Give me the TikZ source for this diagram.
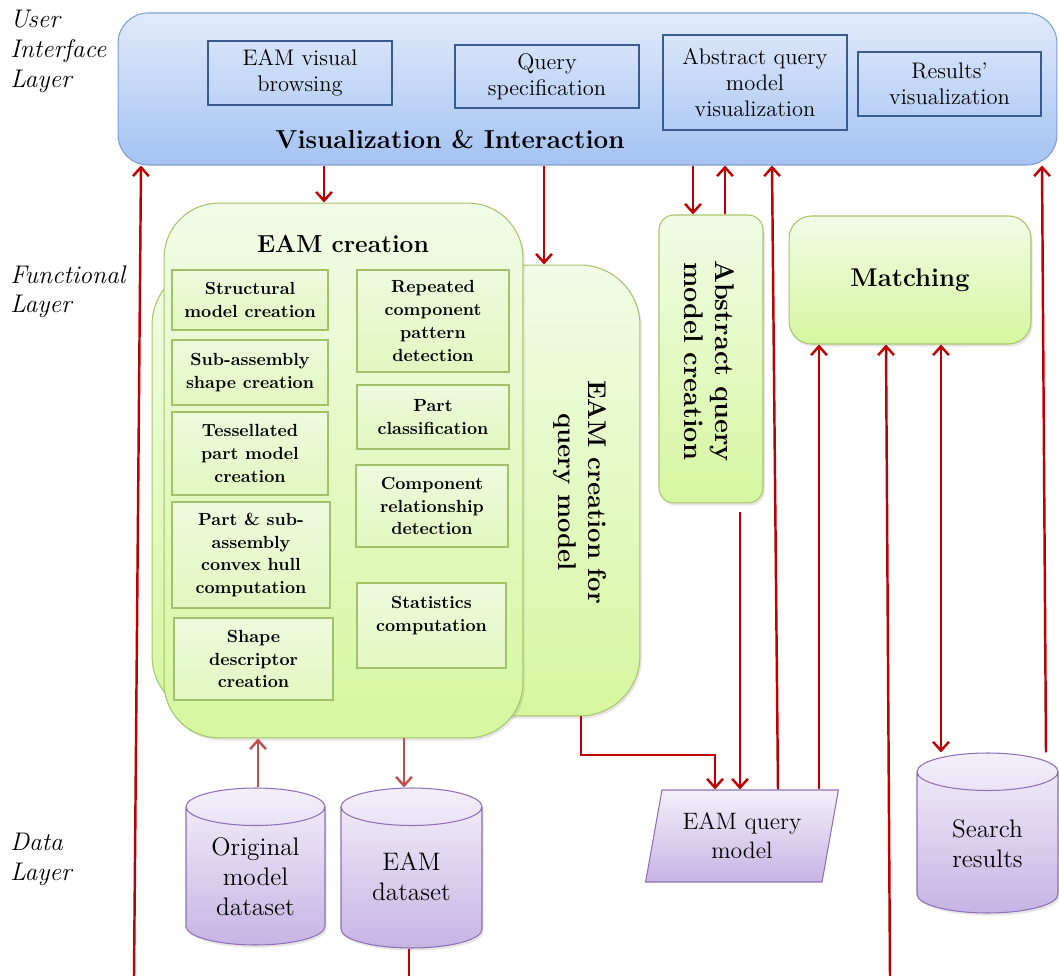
\documentclass[tikz,border=0pt]{standalone}
\usepackage{tikz}
\usetikzlibrary{shapes.geometric,arrows.meta,shadows}

\definecolor{linkred}{RGB}{192,0,0}
\definecolor{softred}{RGB}{192,80,77}
\definecolor{uitop}{RGB}{225,235,250}
\definecolor{uibot}{RGB}{164,194,243}
\definecolor{uiedge}{RGB}{126,160,212}
\definecolor{uiline}{RGB}{59,91,142}
\definecolor{grntop}{RGB}{242,251,230}
\definecolor{grnbot}{RGB}{214,247,160}
\definecolor{grnedge}{RGB}{167,196,107}
\definecolor{tasktop}{RGB}{238,250,222}
\definecolor{taskbot}{RGB}{226,247,192}
\definecolor{taskedge}{RGB}{163,192,106}
\definecolor{dbtop}{RGB}{244,240,250}
\definecolor{dbbot}{RGB}{198,180,228}
\definecolor{dbedge}{RGB}{142,113,181}

\begin{document}
\begin{tikzpicture}[x=0.02cm, y=-0.02cm, >={Straight Barb[length=5pt,width=9pt]},
  uibox/.style={draw=uiedge, top color=uitop, bottom color=uibot, rounded corners=0.6cm, line width=0.6pt},
  uipart/.style={draw=uiline, line width=0.6pt, align=center, font=\fontsize{12.8}{14.7}\selectfont},
  grnbox/.style={draw=grnedge, top color=grntop, bottom color=grnbot, line width=0.6pt,
    drop shadow={opacity=0.2, shadow xshift=1pt, shadow yshift=-1.5pt}},
  task/.style={draw=taskedge, top color=tasktop, bottom color=taskbot, line width=1pt, align=center,
    font=\fontsize{10}{13}\selectfont\bfseries},
  bigbold/.style={align=center, font=\fontsize{14.6}{17}\selectfont\bfseries},
  db/.style={cylinder, shape border rotate=90, aspect=3.2, anchor=shape center, draw=dbedge,
    top color=dbtop, bottom color=dbbot, line width=0.6pt,
    drop shadow={opacity=0.2, shadow xshift=1pt, shadow yshift=-1.5pt}},
  dbtext/.style={align=center, font=\fontsize{14.4}{17}\selectfont},
  param/.style={trapezium, trapezium left angle=77, trapezium right angle=103, trapezium stretches=true,
    draw=dbedge, top color=dbtop, bottom color=dbbot, line width=0.6pt, align=center,
    font=\fontsize{13.5}{16.5}\selectfont},
  flow/.style={draw=linkred, line width=1.4pt},
  softflow/.style={draw=softred, line width=1.4pt},
  layer/.style={anchor=north west, inner sep=0pt, align=left, font=\fontsize{14.5}{17}\selectfont\itshape}]
\useasboundingbox (0,0) rectangle (1059,976);

% layer names
\node[layer] (uilayer) at (10,10) {User\\Interface\\Layer};
\node[layer] (funlayer) at (10,265) {Functional\\Layer};
\node[layer] (datalayer) at (10,833) {Data\\Layer};

% user interface layer
\node[uibox, minimum width=18.78cm, minimum height=3.04cm] (ui) at (587.5,89) {};
\node[uipart, minimum width=3.68cm, minimum height=1.28cm] (browse) at (300,73) {EAM visual\\browsing};
\node[uipart, minimum width=3.68cm, minimum height=1.26cm] (qspec) at (547,76.5) {Query\\specification};
\node[uipart, minimum width=3.68cm, minimum height=1.9cm] (aqvis) at (755,82.5) {Abstract query\\model\\visualization};
\node[uipart, minimum width=3.66cm, minimum height=1.28cm] (resvis) at (949.5,84) {Results'\\visualization};
\node[bigbold, font=\fontsize{14.8}{17}\selectfont\bfseries] (uititle) at (450,139) {Visualization \& Interaction};

% functional layer
\node[grnbox, rounded corners=1.2cm, minimum width=9.76cm, minimum height=9.02cm] (qmodel) at (396,490.5) {};
\node[bigbold, rotate=-90] (qmodeltxt) at (580,492) {EAM creation for\\query model};
\node[grnbox, rounded corners=1.1cm, minimum width=7.18cm, minimum height=10.7cm] (eamc) at (343.5,470.5) {};
\node[bigbold, font=\fontsize{14}{17}\selectfont\bfseries] (eamctxt) at (343,244) {EAM creation};

\node[task, minimum width=3.12cm, minimum height=1.2cm] (t1) at (250,300) {Structural\\model creation};
\node[task, minimum width=3.12cm, minimum height=1.3cm] (t2) at (250,372.5) {Sub-assembly\\shape creation};
\node[task, minimum width=3.12cm, minimum height=1.66cm] (t3) at (250,453.5) {Tessellated\\part model\\creation};
\node[task, minimum width=3.16cm, minimum height=2.12cm] (t4) at (251,555) {Part \& sub-\\assembly\\convex hull\\computation};
\node[task, minimum width=3.18cm, minimum height=1.64cm] (t5) at (253.5,659) {Shape\\descriptor\\creation};
\node[task, minimum width=3.04cm, minimum height=2.04cm] (t6) at (433,321) {Repeated\\component\\pattern\\detection};
\node[task, minimum width=3.04cm, minimum height=1.28cm] (t7) at (433,417) {Part\\classification};
\node[task, minimum width=3.04cm, minimum height=1.64cm] (t8) at (432,506) {Component\\relationship\\detection};
\node[task, minimum width=2.98cm, minimum height=1.7cm] (t9) at (431.5,625.5) {Statistics\\computation\\\mbox{}};

\node[grnbox, rounded corners=0.3cm, minimum width=2.08cm, minimum height=5.76cm] (aqm) at (711,359) {};
\node[bigbold, rotate=-90, font=\fontsize{15.4}{17.5}\selectfont\bfseries] (aqmtxt) at (709.5,361) {Abstract query\\model creation};
\node[grnbox, rounded corners=0.45cm, minimum width=4.84cm, minimum height=2.56cm, bigbold] (match) at (910,280) {Matching};

% data layer
\node[db, minimum width=2.78cm, minimum height=3.14cm] (orig) at (255.5,866.5) {};
\node[dbtext] (origtxt) at (255.5,877) {Original\\model\\dataset};
\node[db, minimum width=2.82cm, minimum height=3.2cm] (eamd) at (411.5,868) {};
\node[dbtext] (eamdtxt) at (411.5,877) {EAM\\dataset};
\node[db, minimum width=2.82cm, minimum height=3.2cm] (search) at (987.5,833) {};
\node[dbtext] (searchtxt) at (987.5,844) {Search\\results};
\node[param, minimum width=3.88cm, minimum height=1.84cm] (param) at (742,836) {EAM query\\model};

% connectors
\coordinate (b1) at (134,976);
\coordinate (b2) at (890,976);
\coordinate (b3) at (409,976);
\coordinate (aqmout) at (740,512);
\draw[flow,->] (b1) -- (141,0 |- ui.south);
\draw[flow,->] (324,0 |- ui.south) -- (324,0 |- eamc.north);
\draw[flow,->] (544,0 |- ui.south) -- (544,0 |- qmodel.north);
\draw[flow,->] (693,0 |- ui.south) -- (693,0 |- aqm.north);
\draw[flow,->] (725,0 |- aqm.north) -- (725,0 |- ui.south);
\draw[flow,->] (778,0 |- param.north) -- (772,0 |- ui.south);
\draw[flow,->] (1046,0 |- search.north) -- (1042,0 |- ui.south);
\draw[flow,->] (819,0 |- param.north) -- (819,0 |- match.south);
\draw[flow,->] (b2) -- (886,0 |- match.south);
\draw[flow,<->] (941,0 |- match.south) -- (941,0 |- search.north);
\draw[flow,->] (aqmout) -- (740,0 |- param.north);
\draw[flow,->] (581,0 |- qmodel.south) |- (715,755) -- (715,0 |- param.north);
\draw[softflow,->] (258,0 |- orig.north) -- (258,0 |- eamc.south);
\draw[softflow,->] (404,0 |- eamc.south) -- (404,0 |- eamd.north);
\draw[flow] (409,0 |- eamd.south) -- (b3);
\end{tikzpicture}
\end{document}
